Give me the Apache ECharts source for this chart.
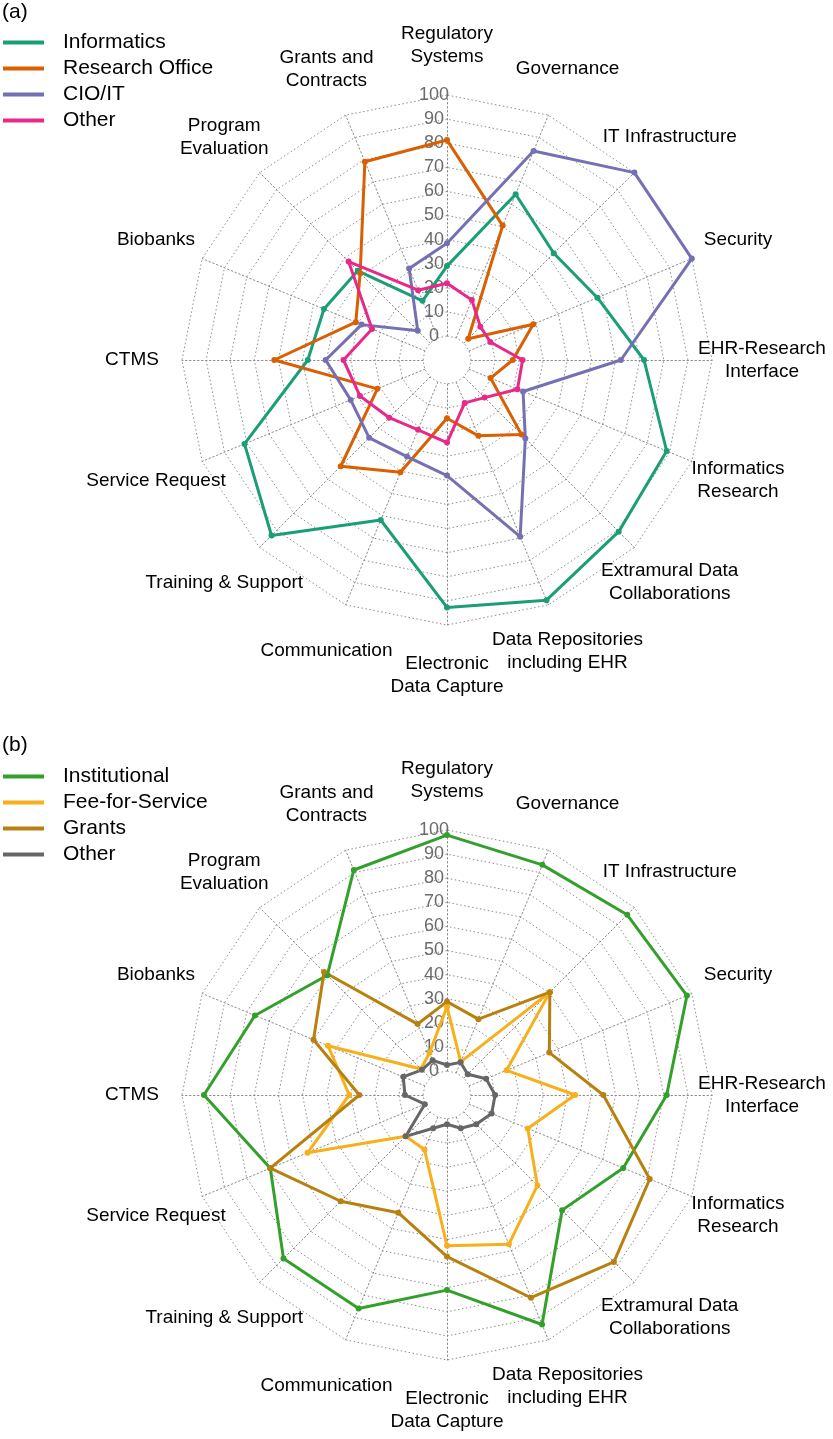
<!DOCTYPE html>
<html><head><meta charset="utf-8">
<script src="https://cdn.jsdelivr.net/npm/echarts@6/dist/echarts.min.js"></script>
<style>html,body{margin:0;padding:0;background:#fff}#c{width:833px;height:1439px}</style>
</head><body><div id="c"></div>
<script>
// Categories listed clockwise starting at the top
const categories = ['Regulatory\nSystems','Governance','IT Infrastructure','Security','EHR-Research\nInterface','Informatics\nResearch','Extramural Data\nCollaborations','Data Repositories\nincluding EHR','Electronic\nData Capture','Communication','Training & Support','Service Request','CTMS','Biobanks','Program\nEvaluation','Grants and\nContracts'];

// Panel (a)
const namesA = ['Informatics','Research Office','CIO/IT','Other'];
const colorsA = ['#1b9e77','#d95f02','#7570b3','#e7298a'];
const informatics   = [29, 64.5, 52.7, 57.6, 71.8, 88.7, 90.8, 97.9, 92.7, 61.9, 93, 81, 47.8, 45.3, 42.4, 16.6];
const researchOffice= [81.3, 50.4, 2.5, 28.8, 17.3, 9.6, 33.7, 24.1, 14.2, 40.5, 52.4, 21.3, 61.7, 31, 41, 79.1];
const cioIT         = [38.5, 83.9, 100, 100, 62.2, 24.2, 36, 69.4, 38, 33.4, 35.7, 33.3, 40.4, 28.4, 7.2, 31.1];
const otherA        = [21.9, 17, 9.6, 9.5, 21.4, 21.7, 12.1, 9.3, 24.3, 21.4, 23.9, 29.1, 33, 23.7, 47.8, 21.4];

// Panel (b)
const namesB = ['Institutional','Fee-for-Service','Grants','Other'];
const colorsB = ['#33a02c','#f5b01c','#b8800f','#666666'];
const institutional = [97.9, 93.4, 95.8, 97.8, 81.2, 69.2, 57.6, 93.1, 71, 85.9, 86, 69.4, 90.9, 76.3, 60.3, 91.1];
const feeForService = [26.7, 4.9, 50.4, 16.8, 43.2, 26.3, 43.1, 57.1, 52.6, 14.5, 14.3, 52.7, 30.6, 43.5, 5.3, 9];
const grants        = [28.8, 24.1, 50.4, 36, 54.9, 81.1, 88, 81.1, 57.1, 42.9, 52.4, 69.4, 26.4, 50, 62.2, 21.9];
const otherB        = [2.5, 4.7, 2.2, 7.6, 10, 10.1, 7.2, 5, 2.2, 5, 14.3, 0, 7.5, 9.7, 4.8, 5.6];

const panelLabels = ['(a)','(b)'];
const axisMin = 0, axisMax = 100, axisSplits = 10;

const FONT = '"Liberation Sans", Arial, sans-serif';
// ECharts lays radar indicators counter-clockwise; reorder clockwise lists
function ccw(arr){ return [arr[0]].concat(arr.slice(1).reverse()); }

function makeRadar(cy){
  return {
    center:[447, cy], radius:[24, 265], startAngle:90, shape:'polygon',
    splitNumber: axisSplits, nameGap: 50,
    indicator: ccw(categories).map((n,i)=>{
      const o = {name:n, min:axisMin, max:axisMax};
      if(i===0) o.axisLabel = {show:true, color:'#6b6b6b', fontSize:18, fontFamily:FONT, align:'center', margin:13};
      return o;
    }),
    axisName:{color:'#000', fontSize:19, fontFamily:FONT, align:'center', verticalAlign:'middle', lineHeight:23},
    axisLine:{show:true, lineStyle:{color:'#8c8c8c', type:[1.5,2.5], width:1}},
    splitLine:{show:true, lineStyle:{color:'#8c8c8c', type:[1.5,2.5], width:1}},
    splitArea:{show:false},
    axisTick:{show:false},
    axisLabel:{show:false}
  };
}

function makeSeries(idx, names, colors, arrays){
  return {
    type:'radar', radarIndex:idx, symbol:'circle', symbolSize:6, silent:true,
    data: arrays.map((a,i)=>({
      name:names[i], value:ccw(a),
      lineStyle:{color:colors[i], width:3},
      itemStyle:{color:colors[i]}
    }))
  };
}

function makeLegend(top, names, colors){
  return {
    orient:'vertical', left:3, top:top, padding:0, icon:'rect',
    itemWidth:41, itemHeight:4, itemGap:5, selectedMode:false,
    data: names.map((n,i)=>({name:n, itemStyle:{color:colors[i]}, lineStyle:{color:colors[i]}})),
    textStyle:{fontSize:21, color:'#000', fontFamily:FONT, padding:[0,0,0,14]}
  };
}

const chart = echarts.init(document.getElementById('c'), null, {renderer:'canvas'});
chart.setOption({
  animation:false,
  backgroundColor:'#fff',
  title:[
    {text:panelLabels[0], left:2, top:2, padding:0, textStyle:{fontSize:21, fontWeight:'normal', color:'#000', fontFamily:FONT}},
    {text:panelLabels[1], left:2, top:735, padding:0, textStyle:{fontSize:21, fontWeight:'normal', color:'#000', fontFamily:FONT}}
  ],
  legend:[
    makeLegend(32, namesA, colorsA),
    makeLegend(766, namesB, colorsB)
  ],
  radar:[makeRadar(360), makeRadar(1095)],
  series:[
    makeSeries(0, namesA, colorsA, [informatics, researchOffice, cioIT, otherA]),
    makeSeries(1, namesB, colorsB, [institutional, feeForService, grants, otherB])
  ]
});
</script>
</body></html>
